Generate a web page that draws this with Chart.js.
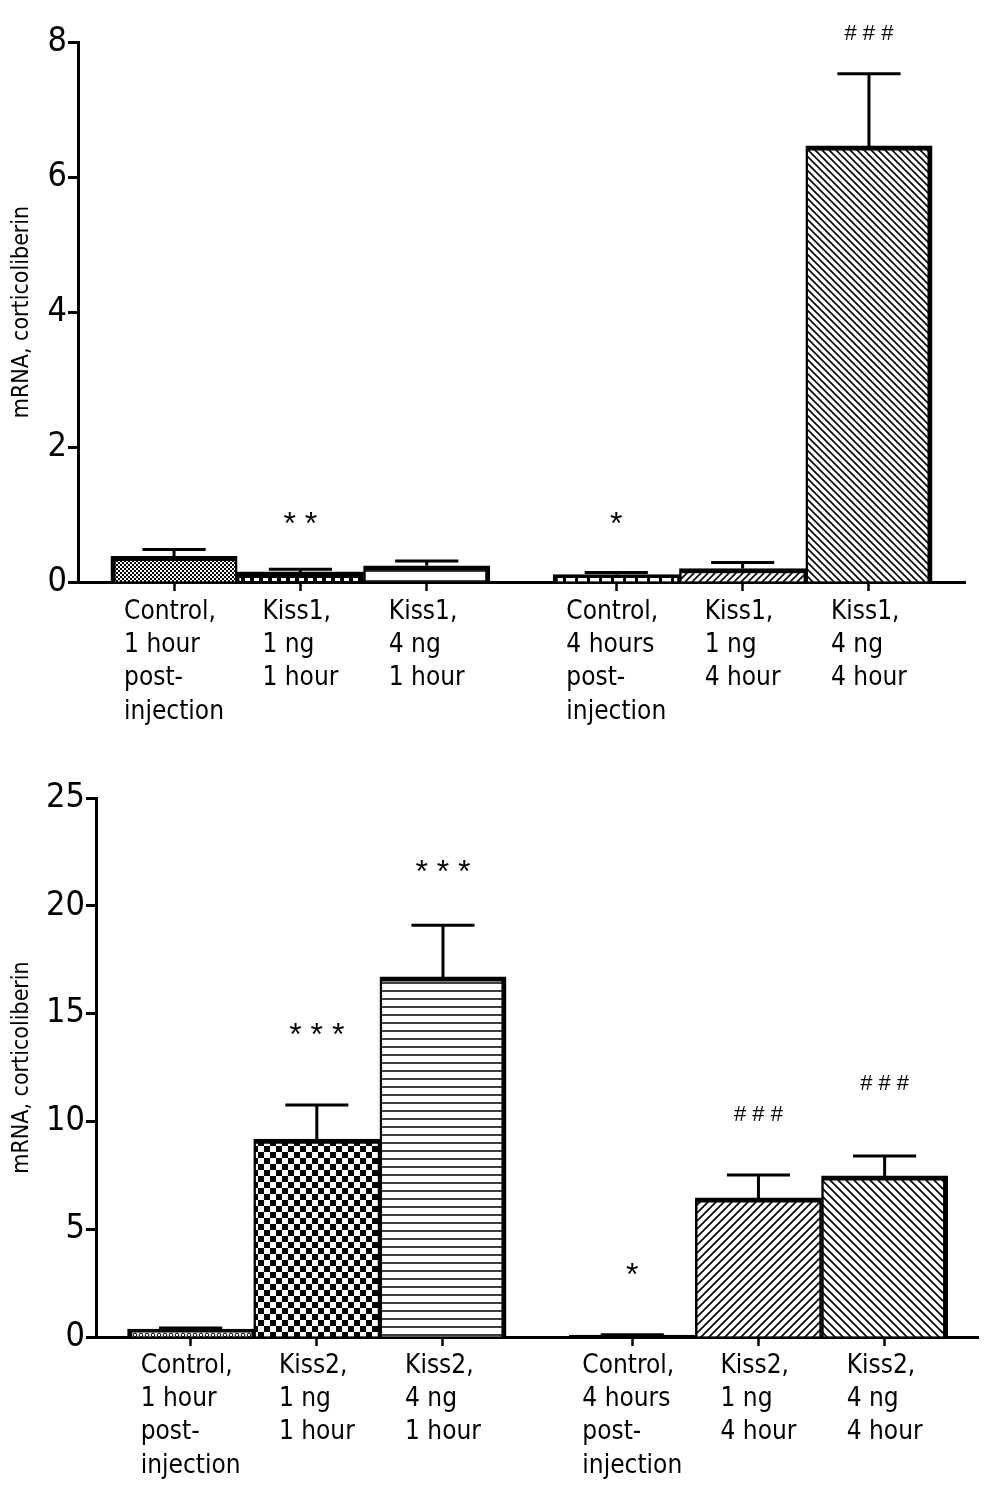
<!DOCTYPE html>
<html>
<head>
<meta charset="utf-8">
<script src="https://cdn.jsdelivr.net/npm/chart.js@4.4.1/dist/chart.umd.min.js"></script>
<style>
  body { margin: 0; background: #fff; }
  .box { position: absolute; left: 0; width: 990px; }
</style>
</head>
<body>
<div class="box" style="top:0;height:750px"><canvas id="top"></canvas></div>
<div class="box" style="top:750px;height:738px"><canvas id="bottom"></canvas></div>
<script>
const FONT = "'Liberation Sans Narrow', 'DejaVu Sans Condensed', 'Roboto Condensed', sans-serif";
const MARK_FONT = "'Liberation Sans', Arial, sans-serif";

// upper panel: Kiss1
const labels1 = [
  ['Control,', '1 hour', 'post-', 'injection'],
  ['Kiss1,', '1 ng', '1 hour'],
  ['Kiss1,', '4 ng', '1 hour'],
  ['Control,', '4 hours', 'post-', 'injection'],
  ['Kiss1,', '1 ng', '4 hour'],
  ['Kiss1,', '4 ng', '4 hour']
];
const values1 = [0.38, 0.15, 0.24, 0.11, 0.20, 6.46];
const sem1 = [0.10, 0.04, 0.07, 0.03, 0.09, 1.07];
const marks1 = ['', '* *', '', '*', '', '# # #'];
const markLevel1 = [null, 0.84, null, 0.84, null, 8.12];
const yTicks1 = [0, 2, 4, 6, 8];

// lower panel: Kiss2
const labels2 = [
  ['Control,', '1 hour', 'post-', 'injection'],
  ['Kiss2,', '1 ng', '1 hour'],
  ['Kiss2,', '4 ng', '1 hour'],
  ['Control,', '4 hours', 'post-', 'injection'],
  ['Kiss2,', '1 ng', '4 hour'],
  ['Kiss2,', '4 ng', '4 hour']
];
const values2 = [0.37, 9.18, 16.7, 0.09, 6.45, 7.47];
const sem2 = [0.05, 1.58, 2.40, 0.02, 1.06, 0.93];
const marks2 = ['', '* * *', '* * *', '*', '# # #', '# # #'];
const markLevel2 = [null, 13.95, 21.5, 2.8, 10.3, 11.75];
const yTicks2 = [0, 5, 10, 15, 20, 25];

const GROUP = 3, GROUP_GAP = 0.5;

function pattern(kind, s) {
  const c = document.createElement('canvas');
  const g = c.getContext('2d');
  c.width = s; c.height = s;
  g.fillStyle = '#fff'; g.fillRect(0, 0, s, s);
  g.fillStyle = '#000'; g.strokeStyle = '#000';
  if (kind === 'check') {
    const h = s / 2;
    g.fillRect(0, 0, h, h); g.fillRect(h, h, h, h);
  } else if (kind === 'dash') {
    g.fillRect(0, 0, s, s);
    g.fillStyle = '#fff'; g.fillRect(2, 2, s - 4, 3);
  } else if (kind === 'box') {
    g.fillRect(0, 0, s, s);
    g.fillStyle = '#fff'; g.fillRect(2, 2, s - 3, 4);
  } else if (kind === 'hline') {
    g.lineWidth = 1.5;
    g.beginPath(); g.moveTo(0, 1); g.lineTo(s, 1); g.stroke();
  } else if (kind === 'fwd' || kind === 'back') {
    g.lineWidth = 1.6;
    g.beginPath();
    if (kind === 'fwd') {
      g.moveTo(-1, s + 1); g.lineTo(s + 1, -1);
      g.moveTo(-1, 1); g.lineTo(1, -1);
      g.moveTo(s - 1, s + 1); g.lineTo(s + 1, s - 1);
    } else {
      g.moveTo(-1, -1); g.lineTo(s + 1, s + 1);
      g.moveTo(s - 1, -1); g.lineTo(s + 1, 1);
      g.moveTo(-1, s - 1); g.lineTo(1, s + 1);
    }
    g.stroke();
  } else if (kind === 'ring') {
    g.lineWidth = 1;
    g.beginPath(); g.arc(s / 2, s / 2, s / 2 - 1.2, 0, Math.PI * 2); g.stroke();
  }
  return g.createPattern(c, 'repeat');
}

const fills1 = [pattern('check', 4), pattern('dash', 9), pattern('hline', 10),
  pattern('box', 12), pattern('fwd', 7), pattern('back', 7)];
const fills2 = [pattern('ring', 6), pattern('check', 12), pattern('hline', 8),
  pattern('dash', 9), pattern('fwd', 8), pattern('back', 8)];

function makeChart(id, o) {
  const slots = o.values.map((v, i) => i + (i >= GROUP ? GROUP_GAP : 0));
  const extras = {
    id: 'extras',
    afterDatasetsDraw(chart) {
      const ctx = chart.ctx, xs = chart.scales.x, ys = chart.scales.y;
      const bars = chart.getDatasetMeta(0).data;
      ctx.save();
      // error bars (upper only)
      ctx.strokeStyle = '#000';
      ctx.lineWidth = 3;
      bars.forEach((b, i) => {
        const top = ys.getPixelForValue(o.values[i] + o.sem[i]);
        const half = b.width / 4;
        ctx.beginPath();
        ctx.moveTo(b.x, b.y); ctx.lineTo(b.x, top);
        ctx.moveTo(b.x - half, top); ctx.lineTo(b.x + half, top);
        ctx.stroke();
      });
      // significance marks
      ctx.fillStyle = '#000';
      ctx.textAlign = 'center';
      ctx.textBaseline = 'middle';
      o.marks.forEach((m, i) => {
        if (!m) return;
        ctx.font = m.startsWith('#') ? '22px ' + MARK_FONT : '32px ' + MARK_FONT;
        ctx.fillText(m, bars[i].x, ys.getPixelForValue(o.markLevel[i]));
      });
      // category labels, left aligned block centred under each bar
      ctx.font = '26px ' + FONT;
      ctx.textAlign = 'left';
      o.labels.forEach((lines, i) => {
        const w = Math.max(...lines.map(t => ctx.measureText(t).width));
        const x0 = xs.getPixelForValue(slots[i]) - w / 2;
        lines.forEach((t, j) => ctx.fillText(t, x0, xs.top + o.labelTop + j * 33.3));
      });
      ctx.restore();
    }
  };

  return new Chart(document.getElementById(id), {
    type: 'bar',
    data: {
      datasets: [{
        data: o.values.map((v, i) => ({ x: slots[i], y: v })),
        backgroundColor: o.fills,
        borderColor: '#000',
        borderWidth: c => ({
          top: 5, bottom: 0,
          left: c.dataIndex % GROUP === 0 ? 5 : 2.5,
          right: c.dataIndex % GROUP === GROUP - 1 ? 5 : 2.5
        }),
        borderSkipped: false,
        barPercentage: 1,
        categoryPercentage: 1
      }]
    },
    options: {
      responsive: true,
      maintainAspectRatio: false,
      animation: false,
      layout: { padding: { top: o.padTop, right: o.padRight, left: 0, bottom: 0 } },
      plugins: { legend: { display: false }, tooltip: { enabled: false } },
      scales: {
        x: {
          type: 'linear',
          min: o.xMin, max: o.xMax,
          offset: false,
          afterBuildTicks: s => { s.ticks = slots.map(v => ({ value: v })); },
          afterFit: s => { s.height = o.xHeight; },
          ticks: { display: false },
          grid: { offset: false, drawOnChartArea: false, drawTicks: true, tickLength: 9, tickWidth: 2.5, color: '#000' },
          border: { display: true, color: '#000', width: 3 }
        },
        y: {
          min: 0, max: o.yTicks[o.yTicks.length - 1],
          afterBuildTicks: s => { s.ticks = o.yTicks.map(v => ({ value: v })); },
          afterFit: s => { s.width = o.yWidth; },
          ticks: { color: '#000', padding: 1, font: { family: FONT, size: 34 } },
          grid: { drawOnChartArea: false, drawTicks: true, tickLength: 10, tickWidth: 3, color: '#000' },
          border: { display: true, color: '#000', width: 3 },
          title: {
            display: true, text: 'mRNA, corticoliberin', color: '#000',
            font: { family: FONT, size: 23 }, padding: { top: 8, bottom: 4 }
          }
        }
      }
    },
    plugins: [extras]
  });
}

makeChart('top', {
  labels: labels1, values: values1, sem: sem1, marks: marks1, markLevel: markLevel1,
  yTicks: yTicks1, fills: fills1,
  xMin: -0.76, xMax: 6.26, padTop: 42, padRight: 25, xHeight: 168, yWidth: 78, labelTop: 30
});
makeChart('bottom', {
  labels: labels2, values: values2, sem: sem2, marks: marks2, markLevel: markLevel2,
  yTicks: yTicks2, fills: fills2,
  xMin: -0.75, xMax: 6.24, padTop: 48, padRight: 12, xHeight: 151, yWidth: 96, labelTop: 29
});
</script>
</body>
</html>
